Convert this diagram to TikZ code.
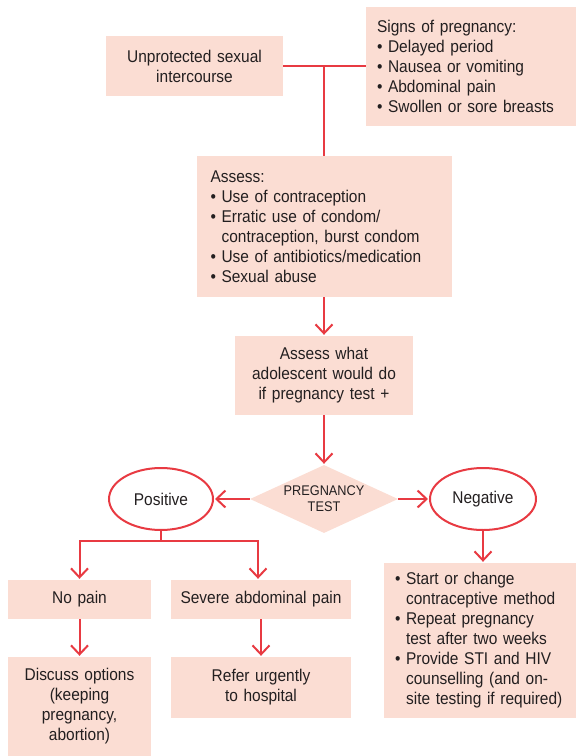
\documentclass[tikz,border=0pt]{standalone}
\usepackage{fontspec}
\setmainfont[FakeStretch=0.91]{Liberation Sans}
\usepackage{xcolor}
\usepackage{tikz}
\usetikzlibrary{shapes.geometric, arrows.meta, positioning, calc}
\definecolor{flowred}{RGB}{232,58,66}
\definecolor{boxpink}{RGB}{251,221,211}
\definecolor{inkgray}{RGB}{35,31,32}
\newcommand{\itm}{\textbullet\ }
\newcommand{\cnt}{\hphantom{\textbullet\ }}
\tikzset{
  box/.style={rectangle, fill=boxpink, align=center, inner sep=0pt, text=inkgray,
              font=\fontsize{17}{20}\selectfont},
  listbox/.style={rectangle, fill=boxpink, align=left, inner xsep=11pt, inner ysep=0pt,
              text=inkgray, font=\fontsize{17}{20}\selectfont},
  decision/.style={diamond, aspect=2.18, fill=boxpink, align=center, inner sep=0pt,
              text=inkgray, minimum width=148pt, minimum height=68pt,
              font=\fontsize{14}{16}\selectfont},
  result/.style={ellipse, draw=flowred, line width=2pt, fill=white, inner sep=0pt,
              text=inkgray, minimum height=62pt, font=\fontsize{17}{20}\selectfont},
  line/.style={draw=flowred, line width=2pt},
  arrow/.style={line, -{Straight Barb[length=9pt,width=17pt]}, shorten >=1pt},
}
\begin{document}
\begin{tikzpicture}[x=1pt, y=-1pt]
  \useasboundingbox (0,0) rectangle (576,756);

  % Top row
  \node[box, text width=177pt, minimum height=60pt] (sex) at (194.5,66)
    {Unprotected sexual\\intercourse};
  \node[listbox, text width=188pt, minimum height=119pt] (signs) at (471,66)
    {Signs of pregnancy:\\\itm Delayed period\\\itm Nausea or vomiting\\\itm Abdominal pain\\\itm Swollen or sore breasts};

  % Assessment
  \node[listbox, inner xsep=14pt, text width=227pt, minimum height=141pt] (assess) at (324,226.5)
    {Assess:\\\itm Use of contraception\\\itm Erratic use of condom/\\\cnt contraception, burst condom\\\itm Use of antibiotics/medication\\\itm Sexual abuse};
  \node[box, text width=178pt, minimum height=79pt] (what) at (324,375.5)
    {Assess what\\adolescent would do\\if pregnancy test +};

  % Test and outcomes
  \node[decision] (test) at (324,499) {PREGNANCY\\TEST};
  \node[result, minimum width=104pt] (pos) at (161,499) {Positive};
  \node[result, minimum width=106pt] (neg) at (483,499) {Negative};

  % Positive branch
  \node[box, text width=143pt, minimum height=39pt] (nopain) at (79.5,599.5) {No pain};
  \node[box, text width=180pt, minimum height=39pt] (severe) at (261,599.5) {Severe abdominal pain};
  \node[box, text width=143pt, minimum height=99pt] (discuss) at (79.5,706.5)
    {Discuss options\\(keeping\\pregnancy,\\abortion)};
  \node[box, text width=180pt, minimum height=61pt] (refer) at (261,687.5)
    {Refer urgently\\to hospital};

  % Negative branch
  \node[listbox, text width=170pt, minimum height=155pt] (negbox) at (480,640.5)
    {\itm Start or change\\\cnt contraceptive method\\\itm Repeat pregnancy\\\cnt test after two weeks\\\itm Provide STI and HIV\\\cnt counselling (and on-\\\cnt site testing if required)};

  % Connectors
  \draw[line] (sex.east) -- (signs.west |- sex.east);
  \draw[line] (sex.east -| assess.north) -- (assess.north);
  \draw[arrow] (assess) -- (what);
  \draw[arrow] (what) -- (test);
  \draw[arrow] (test.west) -- (pos.east);
  \draw[arrow] (test.east) -- (neg.west);
  \draw[line] (pos.south) -- ++(0,10) coordinate (split);
  \draw[arrow] (split) -| (nopain.north);
  \draw[arrow] (split) -| ([xshift=-3pt]severe.north);
  \draw[arrow] (nopain) -- (discuss);
  \draw[arrow] (severe) -- (refer);
  \draw[arrow] (neg.south) -- (neg.south |- negbox.north);

\end{tikzpicture}
\end{document}
